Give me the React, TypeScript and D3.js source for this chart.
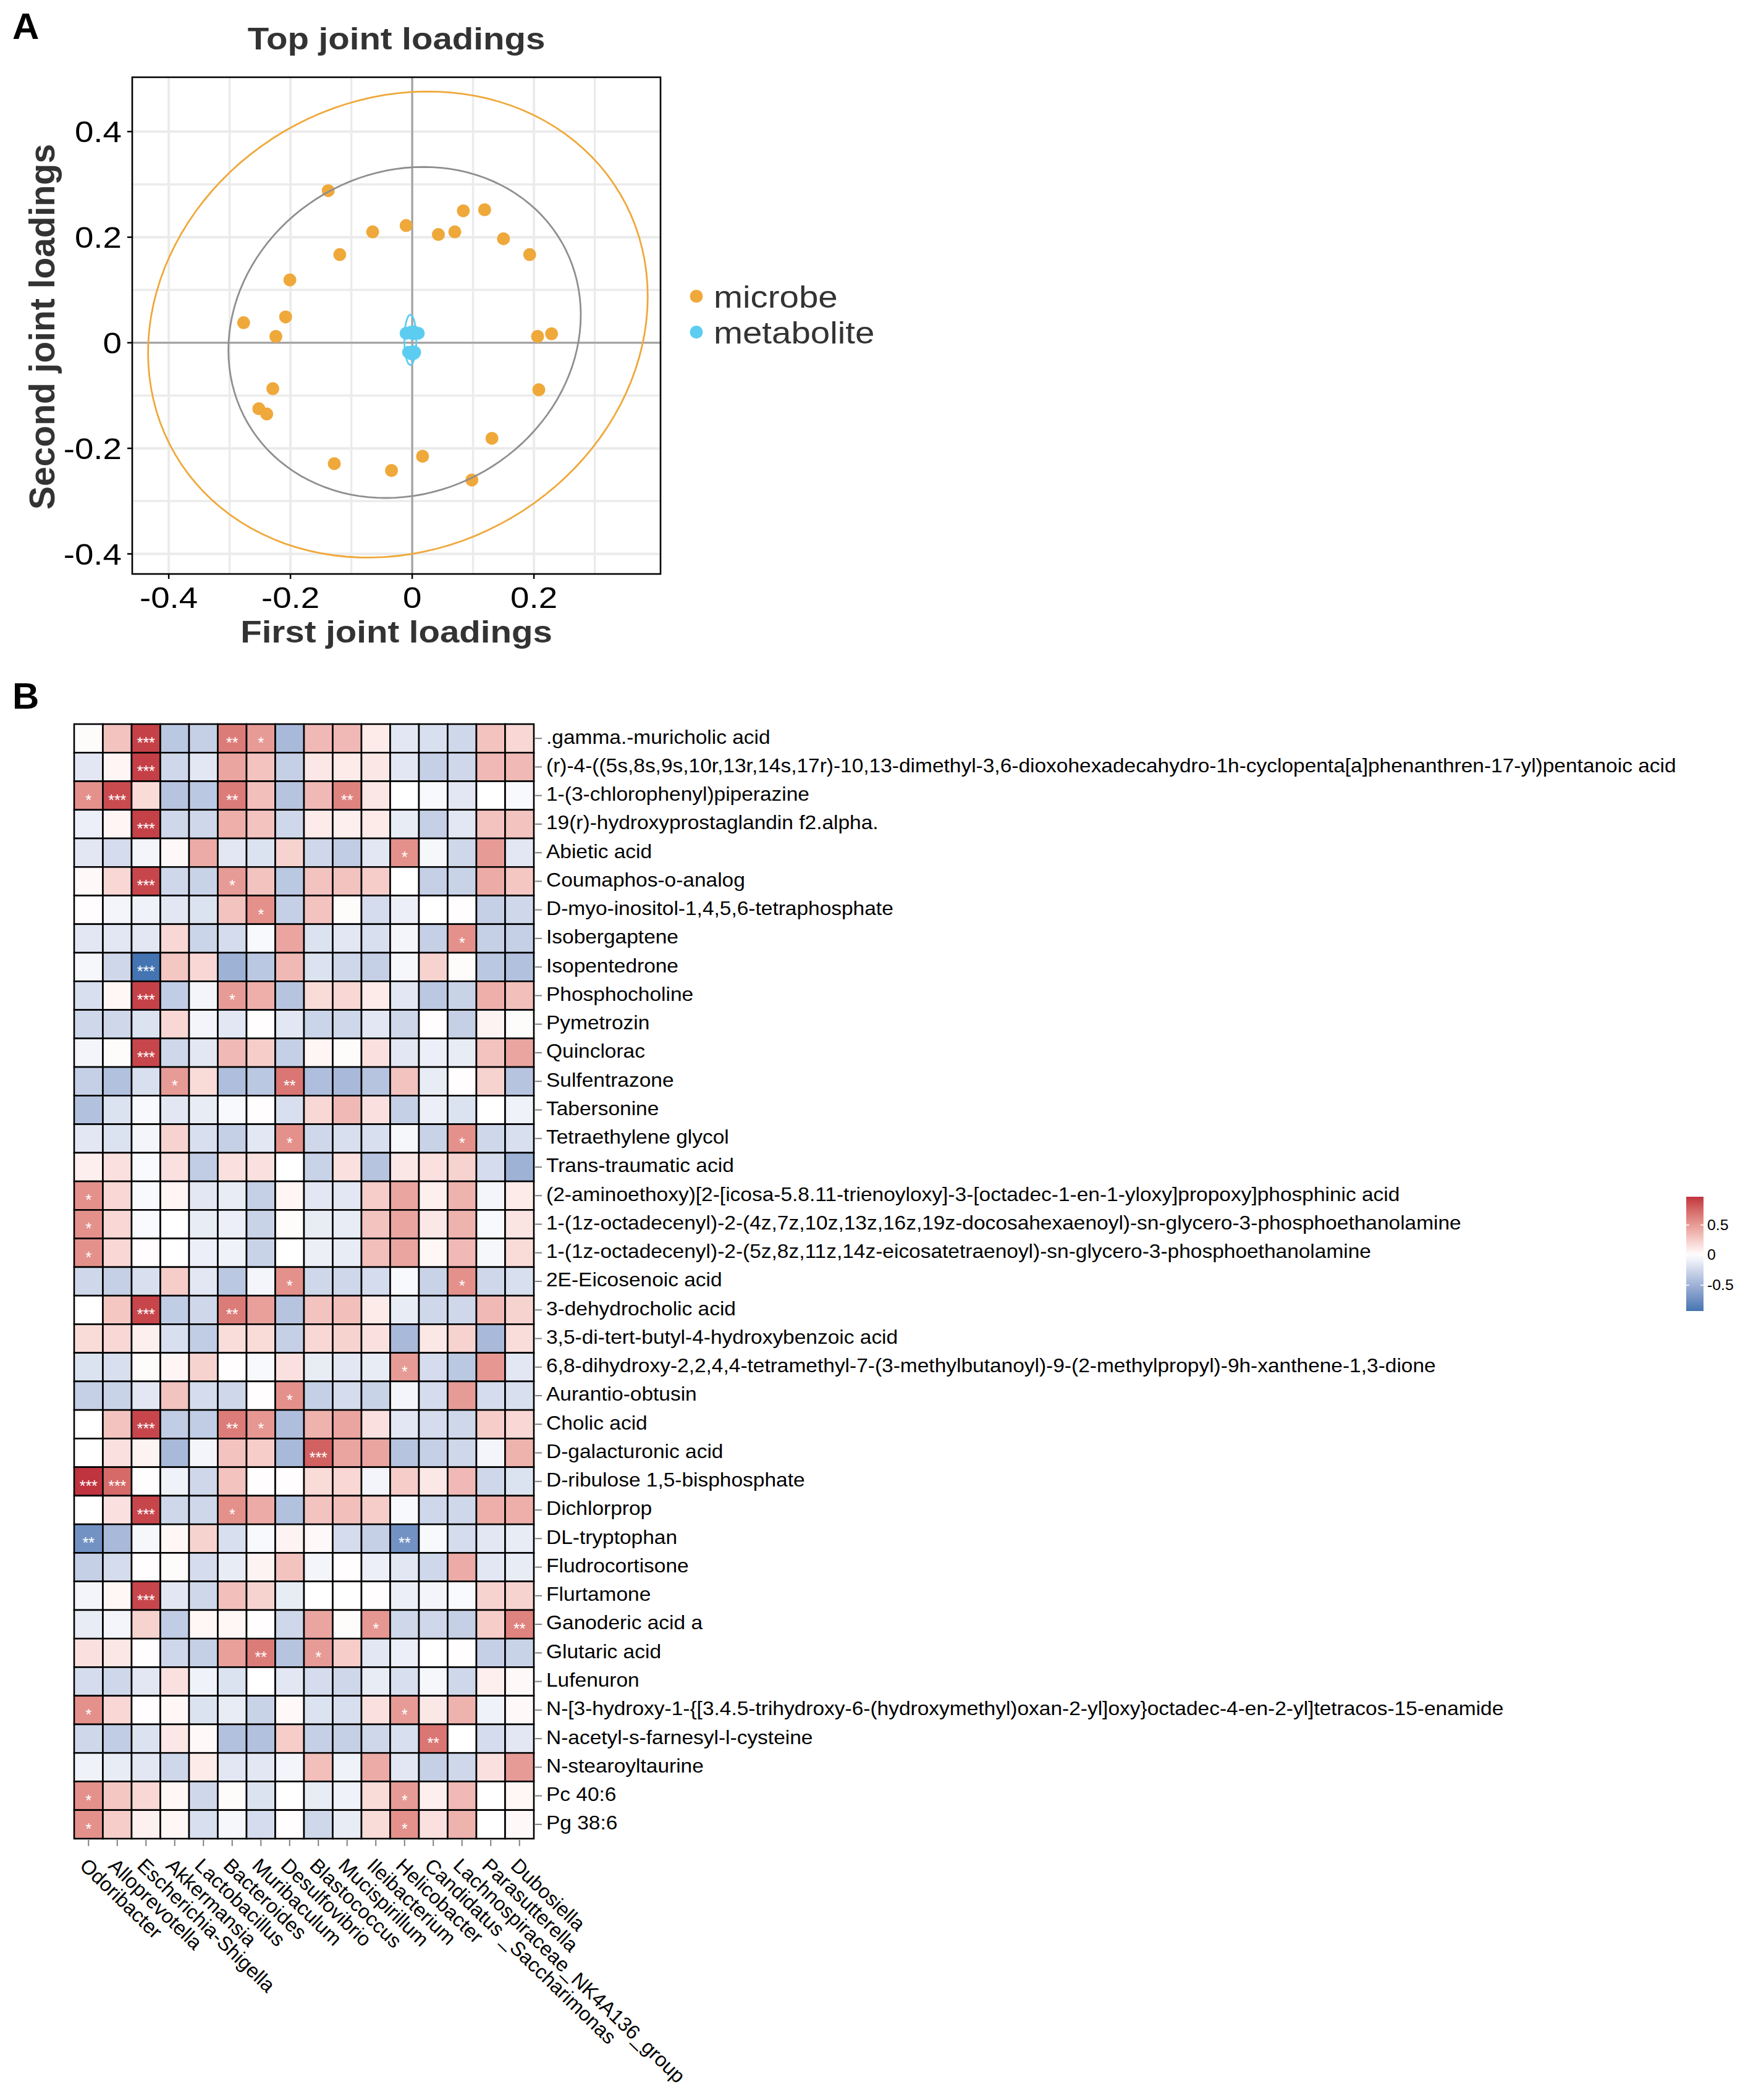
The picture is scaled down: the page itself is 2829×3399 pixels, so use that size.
import React from "react";
import * as d3 from "d3";

const W = 2829;
const H = 3399;
const FONT = "'Liberation Sans', Arial, Helvetica, sans-serif";

// ---------------- Panel A data ----------------
const microbeX = [-0.138, -0.010, -0.065, -0.119, -0.201, -0.208, -0.277, -0.224, 0.084, 0.119, 0.043, 0.070, 0.150, 0.193, 0.206, 0.229, 0.208, -0.229, -0.252, -0.239, 0.131, 0.017, -0.128, -0.034, 0.098];
const microbeY = [0.288, 0.222, 0.210, 0.167, 0.119, 0.049, 0.038, 0.012, 0.250, 0.252, 0.205, 0.210, 0.197, 0.167, 0.012, 0.017, -0.089, -0.087, -0.125, -0.135, -0.181, -0.215, -0.229, -0.242, -0.260];
const metaboliteX = [-0.010, -0.002, 0.000, 0.002, 0.003, -0.001, 0.001, 0.010, -0.006, -0.003, -0.001, 0.000, 0.002, 0.003, 0.004];
const metaboliteY = [0.018, 0.020, 0.019, 0.021, 0.017, 0.018, 0.020, 0.018, -0.018, -0.020, -0.019, -0.021, -0.017, -0.020, -0.018];
const groups = ["microbe", "metabolite"];
const groupColors = ["#EFA83A", "#5CCDF0"];
// confidence ellipses (all loadings, microbe, metabolite): centre and scaled shape matrix
const ellipseColors = ["#8f8f8f", "#EFA83A", "#5CCDF0"];
const ellipseCX = [-0.0125, -0.0235, -0.003];
const ellipseCY = [0.0195, 0.0345, 0.0055];
const ellipseSxx = [0.0838, 0.1685, 0.000096];
const ellipseSyy = [0.0983, 0.1949, 0.002256];
const ellipseSxy = [0.0097, 0.02185, 0.0];
const xMajorTicks = [-0.4, -0.2, 0, 0.2];
const xMinorTicks = [-0.3, -0.1, 0.1, 0.3];
const yMajorTicks = [-0.4, -0.2, 0, 0.2, 0.4];
const yMinorTicks = [-0.3, -0.1, 0.1, 0.3];

// ---------------- Panel B data ----------------
const genera = [
  "Odoribacter", "Alloprevotella", "Escherichia-Shigella", "Akkermansia", "Lactobacillus",
  "Bacteroides", "Muribaculum", "Desulfovibrio", "Blastococcus", "Mucispirillum",
  "Ileibacterium", "Helicobacter", "Candidatus _Saccharimonas", "Lachnospiraceae_NK4A136_group",
  "Parasutterella", "Dubosiella",
];
const metabolites = [
  ".gamma.-muricholic acid",
  "(r)-4-((5s,8s,9s,10r,13r,14s,17r)-10,13-dimethyl-3,6-dioxohexadecahydro-1h-cyclopenta[a]phenanthren-17-yl)pentanoic acid",
  "1-(3-chlorophenyl)piperazine",
  "19(r)-hydroxyprostaglandin f2.alpha.",
  "Abietic acid",
  "Coumaphos-o-analog",
  "D-myo-inositol-1,4,5,6-tetraphosphate",
  "Isobergaptene",
  "Isopentedrone",
  "Phosphocholine",
  "Pymetrozin",
  "Quinclorac",
  "Sulfentrazone",
  "Tabersonine",
  "Tetraethylene glycol",
  "Trans-traumatic acid",
  "(2-aminoethoxy)[2-[icosa-5.8.11-trienoyloxy]-3-[octadec-1-en-1-yloxy]propoxy]phosphinic acid",
  "1-(1z-octadecenyl)-2-(4z,7z,10z,13z,16z,19z-docosahexaenoyl)-sn-glycero-3-phosphoethanolamine",
  "1-(1z-octadecenyl)-2-(5z,8z,11z,14z-eicosatetraenoyl)-sn-glycero-3-phosphoethanolamine",
  "2E-Eicosenoic acid",
  "3-dehydrocholic acid",
  "3,5-di-tert-butyl-4-hydroxybenzoic acid",
  "6,8-dihydroxy-2,2,4,4-tetramethyl-7-(3-methylbutanoyl)-9-(2-methylpropyl)-9h-xanthene-1,3-dione",
  "Aurantio-obtusin",
  "Cholic acid",
  "D-galacturonic acid",
  "D-ribulose 1,5-bisphosphate",
  "Dichlorprop",
  "DL-tryptophan",
  "Fludrocortisone",
  "Flurtamone",
  "Ganoderic acid a",
  "Glutaric acid",
  "Lufenuron",
  "N-[3-hydroxy-1-{[3.4.5-trihydroxy-6-(hydroxymethyl)oxan-2-yl]oxy}octadec-4-en-2-yl]tetracos-15-enamide",
  "N-acetyl-s-farnesyl-l-cysteine",
  "N-stearoyltaurine",
  "Pc 40:6",
  "Pg 38:6",
];
const corr = [
  [0.02, 0.30, 0.92, -0.35, -0.30, 0.65, 0.50, -0.45, 0.35, 0.35, 0.10, -0.15, -0.20, -0.25, 0.30, 0.20],
  [-0.15, 0.05, 0.93, -0.25, -0.15, 0.45, 0.30, -0.30, 0.12, 0.10, 0.12, -0.15, -0.30, -0.25, 0.35, 0.35],
  [0.55, 0.88, 0.18, -0.38, -0.35, 0.65, 0.32, -0.38, 0.35, 0.62, 0.12, 0.00, -0.04, -0.15, 0.00, -0.04],
  [-0.10, 0.05, 0.92, -0.25, -0.25, 0.40, 0.30, -0.25, 0.10, 0.08, 0.10, -0.12, -0.30, -0.15, 0.30, 0.30],
  [-0.15, -0.22, -0.06, 0.03, 0.42, -0.15, -0.18, 0.22, -0.25, -0.32, -0.15, 0.55, -0.05, -0.25, 0.50, -0.15],
  [0.03, 0.20, 0.90, -0.25, -0.28, 0.50, 0.30, -0.35, 0.30, 0.30, 0.25, 0.00, -0.30, -0.28, 0.42, 0.28],
  [0.01, -0.06, -0.08, -0.15, -0.18, 0.30, 0.55, -0.30, 0.30, 0.02, -0.22, -0.10, 0.00, 0.01, -0.30, -0.25],
  [-0.15, -0.15, -0.15, 0.20, -0.27, -0.22, -0.04, 0.45, -0.18, -0.15, -0.20, -0.06, -0.30, 0.55, -0.30, -0.30],
  [-0.05, -0.25, -0.93, 0.28, 0.20, -0.50, -0.35, 0.35, -0.18, -0.25, -0.30, -0.05, 0.22, 0.02, -0.35, -0.40],
  [-0.20, 0.04, 0.92, -0.32, -0.06, 0.50, 0.40, -0.38, 0.18, 0.20, 0.10, -0.15, -0.35, -0.28, 0.40, 0.32],
  [-0.25, -0.25, -0.18, 0.20, -0.06, -0.15, 0.01, -0.15, -0.27, -0.25, -0.15, -0.25, 0.01, -0.30, 0.06, 0.02],
  [-0.06, 0.02, 0.90, -0.25, -0.15, 0.35, 0.25, -0.30, 0.05, 0.02, 0.15, -0.15, -0.10, -0.12, 0.30, 0.45],
  [-0.30, -0.40, -0.20, 0.50, 0.18, -0.42, -0.35, 0.68, -0.42, -0.45, -0.38, 0.30, -0.12, 0.01, 0.22, -0.38],
  [-0.40, -0.18, -0.04, -0.15, -0.12, -0.04, 0.01, -0.20, 0.20, 0.35, 0.15, -0.30, -0.10, -0.18, 0.00, -0.08],
  [-0.15, -0.18, -0.06, 0.22, -0.20, -0.30, -0.15, 0.55, -0.25, -0.20, -0.20, -0.05, -0.28, 0.55, -0.25, -0.20],
  [0.08, 0.15, -0.03, 0.15, -0.32, 0.15, 0.15, 0.00, -0.28, 0.15, -0.38, 0.12, 0.15, 0.22, -0.22, -0.50],
  [0.55, 0.20, -0.04, 0.05, -0.15, -0.12, -0.30, 0.05, -0.15, -0.15, 0.25, 0.45, 0.08, 0.38, -0.06, 0.10],
  [0.55, 0.20, -0.03, 0.00, -0.12, -0.10, -0.28, 0.02, -0.12, -0.12, 0.30, 0.45, 0.12, 0.38, -0.04, 0.13],
  [0.55, 0.20, 0.01, 0.00, -0.10, -0.08, -0.28, 0.00, -0.10, -0.12, 0.32, 0.45, 0.04, 0.35, -0.05, 0.18],
  [-0.25, -0.30, -0.20, 0.25, -0.15, -0.35, -0.06, 0.55, -0.25, -0.25, -0.22, -0.04, -0.28, 0.55, -0.25, -0.20],
  [0.00, 0.28, 0.90, -0.32, -0.25, 0.65, 0.48, -0.38, 0.30, 0.32, 0.10, -0.12, -0.25, -0.25, 0.35, 0.22],
  [0.18, 0.20, 0.08, -0.20, -0.32, 0.17, 0.18, -0.30, 0.20, 0.22, 0.15, -0.45, 0.12, 0.22, -0.45, 0.17],
  [-0.18, -0.20, 0.02, 0.05, 0.22, 0.01, -0.04, 0.15, -0.12, -0.15, -0.12, 0.50, -0.22, -0.35, 0.52, -0.15],
  [-0.30, -0.28, -0.15, 0.30, -0.22, -0.25, 0.01, 0.55, -0.30, -0.22, -0.28, -0.06, -0.22, 0.50, -0.22, -0.20],
  [0.00, 0.30, 0.90, -0.32, -0.32, 0.65, 0.52, -0.42, 0.38, 0.45, 0.15, -0.15, -0.22, -0.25, 0.25, 0.20],
  [0.00, 0.15, 0.06, -0.45, -0.06, 0.30, 0.25, -0.45, 0.78, 0.45, 0.45, -0.38, -0.30, -0.25, -0.06, 0.38],
  [0.97, 0.74, 0.01, -0.08, -0.25, 0.30, 0.01, 0.01, 0.18, 0.20, -0.06, 0.25, 0.12, 0.35, -0.25, -0.18],
  [0.00, 0.15, 0.90, -0.25, -0.25, 0.55, 0.42, -0.40, 0.30, 0.32, 0.25, -0.04, -0.25, -0.25, 0.40, 0.40],
  [-0.72, -0.45, -0.05, 0.04, 0.22, -0.20, -0.04, 0.06, 0.03, -0.22, -0.30, -0.72, -0.04, -0.22, -0.15, -0.12],
  [-0.30, -0.22, 0.01, 0.02, -0.22, -0.12, 0.06, 0.30, -0.06, 0.01, -0.10, -0.15, -0.25, 0.42, -0.15, -0.12],
  [-0.06, 0.04, 0.90, -0.15, -0.25, 0.32, 0.22, -0.12, 0.00, 0.00, 0.01, -0.10, -0.06, -0.03, 0.22, 0.22],
  [-0.12, -0.06, 0.22, -0.32, 0.04, 0.04, 0.01, -0.25, 0.45, 0.02, 0.52, -0.25, -0.25, -0.30, 0.25, 0.62],
  [0.15, 0.12, 0.01, -0.25, -0.30, 0.48, 0.65, -0.38, 0.50, 0.25, -0.15, -0.10, 0.00, 0.01, -0.30, -0.28],
  [-0.22, -0.25, -0.15, 0.15, -0.08, -0.18, 0.00, -0.15, -0.22, -0.25, -0.12, -0.20, -0.05, -0.25, 0.08, 0.03],
  [0.55, 0.20, 0.01, 0.04, -0.18, -0.12, -0.28, 0.03, -0.18, -0.20, 0.15, 0.50, 0.12, 0.38, -0.08, 0.03],
  [-0.25, -0.32, -0.18, 0.12, 0.03, -0.40, -0.40, 0.25, -0.30, -0.30, -0.25, -0.20, 0.68, 0.00, -0.22, -0.15],
  [-0.08, -0.12, -0.15, -0.25, 0.10, -0.15, -0.15, -0.06, 0.32, -0.08, 0.42, -0.15, -0.30, -0.25, 0.15, 0.50],
  [0.55, 0.28, 0.20, 0.04, -0.25, 0.02, -0.18, 0.00, -0.12, -0.08, 0.18, 0.50, 0.08, 0.35, 0.00, 0.04],
  [0.55, 0.25, 0.07, 0.04, -0.20, -0.05, -0.22, 0.01, -0.25, -0.12, 0.18, 0.55, 0.15, 0.38, 0.00, 0.03],
];
// number of significance stars per cell (one character per genus)
const sigStars = [
  "0030021000000000", "0030000000000000", "1300020002000000", "0030000000000000",
  "0000000000010000", "0030010000000000", "0000001000000000", "0000000000000100",
  "0030000000000000", "0030010000000000", "0000000000000000", "0030000000000000",
  "0001000200000000", "0000000000000000", "0000000100000100", "0000000000000000",
  "1000000000000000", "1000000000000000", "1000000000000000", "0000000100000100",
  "0030020000000000", "0000000000000000", "0000000000010000", "0000000100000000",
  "0030021000000000", "0000000030000000", "3300000000000000", "0030010000000000",
  "2000000000020000", "0000000000000000", "0030000000000000", "0000000000100002",
  "0000002010000000", "0000000000000000", "1000000000010000", "0000000000002000",
  "0000000000000000", "1000000000010000", "1000000000010000",
];
const legendTicks = [-0.5, 0, 0.5];

// ---------------- helpers ----------------
type Pt = [number, number];

function ellipsePoints(cx: number, cy: number, sxx: number, syy: number, sxy: number, segments = 120): Pt[] {
  // Cholesky factor of the shape matrix, applied to the unit circle
  const a = Math.sqrt(sxx);
  const b = sxy / a;
  const c = Math.sqrt(Math.max(syy - b * b, 0));
  const out: Pt[] = [];
  for (let i = 0; i <= segments; i++) {
    const t = (i / segments) * 2 * Math.PI;
    const u = Math.cos(t), v = Math.sin(t);
    out.push([cx + u * a, cy + (u * b + v * c)]);
  }
  return out;
}

function SText(props: any) {
  const { x, y, sx = 1, rotate = 0, children, ...rest } = props;
  const t = `translate(${x},${y}) scale(${sx},1)` + (rotate ? ` rotate(${rotate})` : "");
  return (
    <text transform={t} fontFamily={FONT} {...rest}>
      {children}
    </text>
  );
}

const fmt = (v: number) => (v === 0 ? "0" : String(v));

// ---------------- component ----------------
export default function App() {
  // ---- Panel A ----
  const PA = { left: 214, right: 1069, top: 125, bottom: 929 };
  const SXA = 1.14;
  const xS = d3.scaleLinear().domain([-0.46, 0.408]).range([PA.left, PA.right]);
  const yS = d3.scaleLinear().domain([-0.438, 0.503]).range([PA.bottom, PA.top]);
  const microbePts: Pt[] = microbeX.map((x, i) => [x, microbeY[i]]);
  const metabPts: Pt[] = metaboliteX.map((x, i) => [x, metaboliteY[i]]);
  const line = d3
    .line<Pt>()
    .x((d) => xS(d[0]))
    .y((d) => yS(d[1]));
  const ellipses = ellipseCX.map((cx, i) => ({
    d: line(ellipsePoints(cx, ellipseCY[i], ellipseSxx[i], ellipseSyy[i], ellipseSxy[i])) || "",
    color: ellipseColors[i],
  }));

  // ---- Panel B ----
  const HB = { left: 120, right: 864, top: 1172, bottom: 2976 };
  const SXB = 1.08;
  const xB = d3.scaleBand().domain(genera).range([HB.left, HB.right]);
  const yB = d3.scaleBand().domain(metabolites).range([HB.top, HB.bottom]);
  const flat = corr.flat();
  const vMin = d3.min(flat)!;
  const vMax = d3.max(flat)!;
  const M = Math.max(Math.abs(vMin), Math.abs(vMax));
  const color = d3
    .scaleLinear<string>()
    .domain([-M, 0, M])
    .range(["#3A6FAF", "#FFFFFF", "#C0343F"])
    .interpolate(d3.interpolateLab);
  const cb = { x: 2729, w: 28, top: 1937, bottom: 2122 };
  const cbS = d3.scaleLinear().domain([vMin, vMax]).range([cb.bottom, cb.top]);
  const stops = d3.range(0, 21).map((i) => {
    const v = vMin + ((vMax - vMin) * i) / 20;
    return { off: i / 20, c: color(v) };
  });

  return (
    <svg
      width={W}
      height={H}
      viewBox={`0 0 ${W} ${H}`}
      style={{ position: "absolute", left: 0, top: 0, display: "block" }}
    >
      <defs>
        <linearGradient id="cbgrad" x1="0" y1="1" x2="0" y2="0">
          {stops.map((s, i) => (
            <stop key={i} offset={s.off} stopColor={s.c} />
          ))}
        </linearGradient>
        <clipPath id="panelA">
          <rect x={PA.left} y={PA.top} width={PA.right - PA.left} height={PA.bottom - PA.top} />
        </clipPath>
      </defs>
      <rect x={0} y={0} width={W} height={H} fill="#ffffff" />

      {/* ================= Panel A ================= */}
      <text x={20} y={63} fontFamily={FONT} fontWeight="bold" fontSize={60} fill="#000">
        A
      </text>
      <SText x={(PA.left + PA.right) / 2} y={80} sx={SXA} textAnchor="middle" fontWeight="bold" fontSize={49.5} fill="#333333">
        Top joint loadings
      </SText>

      {/* grid */}
      <g>
        {xMinorTicks.map((t) => (
          <line key={"xm" + t} x1={xS(t)} x2={xS(t)} y1={PA.top} y2={PA.bottom} stroke="#ebebeb" strokeWidth={3.5} />
        ))}
        {yMinorTicks.map((t) => (
          <line key={"ym" + t} y1={yS(t)} y2={yS(t)} x1={PA.left} x2={PA.right} stroke="#ebebeb" strokeWidth={3.5} />
        ))}
        {xMajorTicks.map((t) => (
          <line key={"xM" + t} x1={xS(t)} x2={xS(t)} y1={PA.top} y2={PA.bottom} stroke="#ebebeb" strokeWidth={4} />
        ))}
        {yMajorTicks.map((t) => (
          <line key={"yM" + t} y1={yS(t)} y2={yS(t)} x1={PA.left} x2={PA.right} stroke="#ebebeb" strokeWidth={4} />
        ))}
      </g>
      {/* zero lines */}
      <line x1={xS(0)} x2={xS(0)} y1={PA.top} y2={PA.bottom} stroke="#a0a0a0" strokeWidth={3} />
      <line y1={yS(0)} y2={yS(0)} x1={PA.left} x2={PA.right} stroke="#a0a0a0" strokeWidth={3} />

      <g clipPath="url(#panelA)">
        {microbePts.map((d, i) => (
          <circle key={"mi" + i} cx={xS(d[0])} cy={yS(d[1])} r={10.5} fill={groupColors[0]} />
        ))}
        {metabPts.map((d, i) => (
          <circle key={"me" + i} cx={xS(d[0])} cy={yS(d[1])} r={10.5} fill={groupColors[1]} />
        ))}
        {ellipses.map((e, i) => (
          <path key={"el" + i} d={e.d} fill="none" stroke={e.color} strokeWidth={2.8} />
        ))}
      </g>
      <rect x={PA.left} y={PA.top} width={PA.right - PA.left} height={PA.bottom - PA.top} fill="none" stroke="#000" strokeWidth={2.6} />

      {/* axes ticks and labels */}
      {xMajorTicks.map((t) => (
        <g key={"xt" + t}>
          <line x1={xS(t)} x2={xS(t)} y1={PA.bottom} y2={PA.bottom + 8} stroke="#000" strokeWidth={2.5} />
          <SText x={xS(t)} y={984} sx={SXA} textAnchor="middle" fontSize={48} fill="#000">
            {fmt(t)}
          </SText>
        </g>
      ))}
      {yMajorTicks.map((t) => (
        <g key={"yt" + t}>
          <line x1={PA.left - 8} x2={PA.left} y1={yS(t)} y2={yS(t)} stroke="#000" strokeWidth={2.5} />
          <SText x={197} y={yS(t) + 17} sx={SXA} textAnchor="end" fontSize={48} fill="#000">
            {fmt(t)}
          </SText>
        </g>
      ))}
      <SText x={(PA.left + PA.right) / 2} y={1040} sx={SXA} textAnchor="middle" fontWeight="bold" fontSize={49.5} fill="#333333">
        First joint loadings
      </SText>
      <text
        transform={`translate(88,${(PA.top + PA.bottom) / 2 + 2}) rotate(-90)`}
        textAnchor="middle"
        fontFamily={FONT}
        fontWeight="bold"
        fontSize={57}
        fill="#333333"
      >
        Second joint loadings
      </text>

      {/* legend A */}
      {groups.map((g, i) => (
        <g key={g}>
          <circle cx={1127} cy={479.5 + i * 58} r={10.5} fill={groupColors[i]} />
          <SText x={1155} y={479.5 + i * 58 + 18} sx={SXA} fontSize={49.5} fill="#333333">
            {g}
          </SText>
        </g>
      ))}

      {/* ================= Panel B ================= */}
      <text x={20} y={1147} fontFamily={FONT} fontWeight="bold" fontSize={60} fill="#000">
        B
      </text>

      <g>
        {metabolites.map((m, r) =>
          genera.map((g, c) => (
            <rect
              key={r + "-" + c}
              x={xB(g)!}
              y={yB(m)!}
              width={xB.bandwidth()}
              height={yB.bandwidth()}
              fill={color(corr[r][c])}
              stroke="#000"
              strokeWidth={2.6}
            />
          ))
        )}
      </g>
      <g>
        {metabolites.map((m, r) =>
          genera.map((g, c) => {
            const n = +sigStars[r][c];
            if (!n) return null;
            return (
              <text
                key={"s" + r + "-" + c}
                x={xB(g)! + xB.bandwidth() / 2}
                y={yB(m)! + yB.bandwidth() / 2 + 16}
                textAnchor="middle"
                fontFamily={FONT}
                fontSize={25}
                fill="#ffffff"
              >
                {"*".repeat(n)}
              </text>
            );
          })
        )}
      </g>

      {/* row labels */}
      {metabolites.map((m) => {
        const cy = yB(m)! + yB.bandwidth() / 2;
        return (
          <g key={"rl" + m}>
            <line x1={HB.right + 2} x2={HB.right + 13} y1={cy} y2={cy} stroke="#7f7f7f" strokeWidth={2} />
            <SText x={884} y={cy + 8.4} sx={SXB} fontSize={31} fill="#000">
              {m}
            </SText>
          </g>
        );
      })}

      {/* column labels */}
      {genera.map((g) => {
        const cx = xB(g)! + xB.bandwidth() / 2;
        return (
          <g key={"cl" + g}>
            <line x1={cx} x2={cx} y1={HB.bottom + 2} y2={HB.bottom + 12} stroke="#7f7f7f" strokeWidth={2} />
            <SText x={cx - 16} y={3022} sx={1} rotate={44} fontSize={32.5} fill="#000">
              {g}
            </SText>
          </g>
        );
      })}

      {/* colorbar */}
      <rect x={cb.x} y={cb.top} width={cb.w} height={cb.bottom - cb.top} fill="url(#cbgrad)" />
      {legendTicks.map((t) => (
        <g key={"cb" + t}>
          <line x1={cb.x} x2={cb.x + 5} y1={cbS(t)} y2={cbS(t)} stroke="#ffffff" strokeWidth={1.5} />
          <line x1={cb.x + cb.w - 5} x2={cb.x + cb.w} y1={cbS(t)} y2={cbS(t)} stroke="#ffffff" strokeWidth={1.5} />
          <SText x={cb.x + cb.w + 6} y={cbS(t) + 8} sx={SXB} fontSize={23} fill="#000">
            {fmt(t)}
          </SText>
        </g>
      ))}
    </svg>
  );
}
